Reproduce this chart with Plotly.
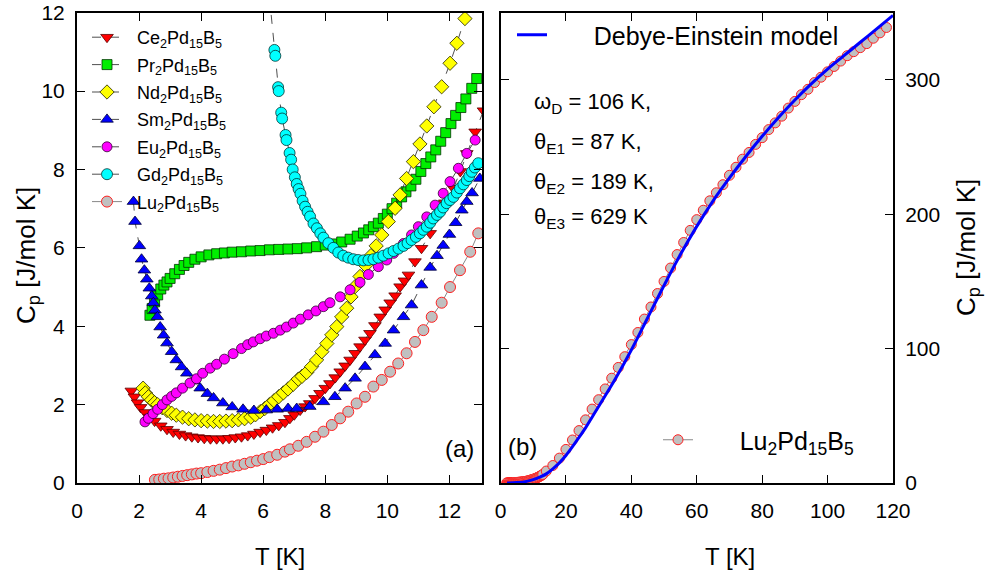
import plotly.graph_objects as go

# ---------------- data: panel (a) ----------------
ce_T = [1.75, 1.85, 1.95, 2.05, 2.2, 2.35, 2.5, 2.7, 2.9, 3.1, 3.3, 3.5, 3.7, 3.9, 4.1, 4.3, 4.5, 4.7, 4.9,
        5.1, 5.3, 5.5, 5.7, 5.9, 6.1, 6.3, 6.5, 6.7, 6.86, 7.0, 7.19, 7.35, 7.5, 7.67, 7.83, 8.0, 8.15, 8.32,
        8.48, 8.64, 8.8, 8.96, 9.12, 9.28, 9.44, 9.6, 9.77, 9.93, 10.09, 10.25, 10.41, 10.55, 10.68, 10.89,
        11.1, 11.38, 11.6, 11.85, 12.13, 12.35, 12.56, 12.83, 13.1]
ce_C = [2.35, 2.2, 2.05, 1.93, 1.8, 1.68, 1.58, 1.46, 1.37, 1.3, 1.25, 1.21, 1.18, 1.16, 1.14, 1.13, 1.13, 1.13,
        1.14, 1.16, 1.18, 1.21, 1.25, 1.3, 1.35, 1.41, 1.47, 1.55, 1.65, 1.74, 1.86, 1.95, 2.03, 2.16, 2.29, 2.42,
        2.54, 2.69, 2.84, 2.99, 3.14, 3.31, 3.48, 3.65, 3.82, 4.02, 4.24, 4.42, 4.6, 4.78, 5.01, 5.16, 5.31, 5.65,
        5.99, 6.37, 6.8, 7.15, 7.52, 7.95, 8.41, 8.96, 9.5]

pr_T = [2.35, 2.42, 2.5, 2.6, 2.7, 2.8, 2.9, 3.0, 3.15, 3.3, 3.45, 3.6, 3.8, 4.0, 4.25, 4.5, 4.75, 5.0, 5.3,
        5.6, 5.9, 6.2, 6.5, 6.8, 7.1, 7.4, 7.72, 8.0, 8.26, 8.53, 8.8, 9.03, 9.23, 9.4, 9.55, 9.71, 9.87, 10.0,
        10.15, 10.3, 10.46, 10.6, 10.76, 10.92, 11.08, 11.24, 11.4, 11.56, 11.72, 11.88, 12.05, 12.2, 12.37,
        12.53, 12.72, 12.88]
pr_C = [4.28, 4.45, 4.62, 4.8, 4.95, 5.05, 5.13, 5.22, 5.34, 5.45, 5.55, 5.63, 5.71, 5.77, 5.82, 5.85, 5.87,
        5.89, 5.9, 5.92, 5.93, 5.95, 5.96, 5.97, 5.98, 6.0, 6.03, 6.07, 6.1, 6.15, 6.22, 6.3, 6.38, 6.46, 6.54,
        6.63, 6.75, 6.86, 7.0, 7.14, 7.3, 7.43, 7.58, 7.75, 7.95, 8.15, 8.32, 8.5, 8.72, 8.94, 9.17, 9.38, 9.58,
        9.8, 10.07, 10.32]

nd_T = [2.13, 2.2, 2.3, 2.4, 2.5, 2.6, 2.75, 2.9, 3.05, 3.2, 3.4, 3.6, 3.8, 4.0, 4.2, 4.4, 4.6, 4.8, 5.0,
        5.2, 5.4, 5.6, 5.75, 5.9, 6.05, 6.2, 6.35, 6.5, 6.65, 6.8, 6.97, 7.13, 7.25, 7.4, 7.56, 7.72, 7.89,
        8.05, 8.21, 8.37, 8.53, 8.69, 8.83, 8.96, 9.12, 9.3, 9.47, 9.64, 9.82, 10.03, 10.25, 10.41, 10.62,
        10.84, 11.05, 11.27, 11.5, 11.75, 12.02, 12.24, 12.5, 12.72]
nd_C = [2.42, 2.3, 2.2, 2.12, 2.05, 2.0, 1.92, 1.85, 1.78, 1.73, 1.68, 1.64, 1.61, 1.59, 1.58, 1.57, 1.57,
        1.58, 1.59, 1.61, 1.64, 1.68, 1.74, 1.82, 1.9, 2.0, 2.1, 2.2, 2.3, 2.4, 2.52, 2.65, 2.72, 2.82, 2.97,
        3.14, 3.35, 3.56, 3.78, 3.99, 4.24, 4.46, 4.75, 5.01, 5.27, 5.55, 5.8, 6.05, 6.33, 6.67, 7.01, 7.35,
        7.77, 8.2, 8.65, 9.11, 9.6, 10.11, 10.71, 11.22, 11.85, 12.4]

sm_T = [1.82, 1.87, 2.01, 2.08, 2.17, 2.25, 2.33, 2.41, 2.46, 2.51, 2.59, 2.68, 2.79, 2.9, 3.05, 3.2, 3.37,
        3.54, 3.75, 3.97, 4.2, 4.4, 4.7, 5.0, 5.35, 5.7, 6.1, 6.45, 6.8, 7.08, 7.5, 7.94, 8.31, 8.64, 8.96,
        9.28, 9.6, 9.93, 10.2, 10.52, 10.78, 11.1, 11.38, 11.6, 11.8, 12.0, 12.2, 12.4, 12.56, 12.73, 12.98]
sm_C = [7.18, 6.67, 6.05, 5.71, 5.43, 5.2, 4.97, 4.77, 4.6, 4.41, 4.24, 3.98, 3.77, 3.57, 3.35, 3.14, 2.96,
        2.8, 2.6, 2.42, 2.28, 2.17, 2.04, 1.94, 1.88, 1.85, 1.86, 1.88, 1.9, 1.9, 1.95, 2.07, 2.2, 2.42, 2.67,
        2.97, 3.27, 3.56, 3.9, 4.24, 4.54, 5.05, 5.5, 5.8, 6.06, 6.34, 6.64, 6.96, 7.18, 7.4, 7.77]

eu_T = [2.19, 2.3, 2.45, 2.6, 2.75, 2.9, 3.05, 3.2, 3.4, 3.64, 3.85, 4.05, 4.29, 4.5, 4.75, 5.03, 5.3, 5.5,
        5.68, 5.9, 6.1, 6.33, 6.55, 6.75, 6.97, 7.2, 7.45, 7.7, 7.94, 8.15, 8.48, 8.8, 9.12, 9.39, 9.71, 9.98,
        10.2, 10.52, 10.78, 11.0, 11.27, 11.54, 11.8, 12.02, 12.29, 12.56, 12.83]
eu_C = [1.56, 1.65, 1.77, 1.88, 2.0, 2.12, 2.21, 2.3, 2.42, 2.55, 2.66, 2.8, 2.93, 3.03, 3.16, 3.3, 3.43,
        3.53, 3.6, 3.68, 3.75, 3.82, 3.9, 3.98, 4.08, 4.18, 4.29, 4.39, 4.5, 4.6, 4.75, 4.93, 5.12, 5.32, 5.52,
        5.69, 5.86, 6.11, 6.33, 6.54, 6.79, 7.09, 7.39, 7.69, 8.03, 8.41, 8.75]

gd_T = [6.2, 6.36, 6.39, 6.48, 6.5, 6.58, 6.61, 6.72, 6.75, 6.85, 6.9, 6.95, 7.02, 7.08, 7.14, 7.2, 7.27,
        7.35, 7.43, 7.51, 7.62, 7.73, 7.84, 7.94, 8.1, 8.26, 8.42, 8.58, 8.74, 8.9, 9.06, 9.23, 9.39, 9.55,
        9.71, 9.87, 10.04, 10.2, 10.36, 10.52, 10.65, 10.78, 10.92, 11.05, 11.16, 11.27, 11.38, 11.48, 11.6,
        11.7, 11.8, 11.91, 12.02, 12.13, 12.24, 12.34, 12.45, 12.56, 12.64, 12.72, 12.82, 12.93]
gd_C = [12.4, 11.05, 10.9, 10.1, 10.0, 9.45, 9.3, 8.88, 8.75, 8.42, 8.25, 8.0, 7.8, 7.63, 7.5, 7.38, 7.2,
        7.05, 6.92, 6.8, 6.62, 6.5, 6.37, 6.26, 6.12, 6.0, 5.88, 5.8, 5.75, 5.71, 5.69, 5.68, 5.69, 5.71, 5.75,
        5.8, 5.86, 5.92, 5.98, 6.05, 6.12, 6.2, 6.28, 6.37, 6.46, 6.54, 6.64, 6.75, 6.84, 6.92, 7.03, 7.14,
        7.22, 7.3, 7.41, 7.52, 7.62, 7.73, 7.83, 7.94, 8.05, 8.16]

lu_T = [2.51, 2.65, 2.8, 2.95, 3.1, 3.25, 3.4, 3.55, 3.7, 3.85, 4.0, 4.2, 4.4, 4.6, 4.8, 5.0, 5.2, 5.4, 5.6,
        5.8, 6.0, 6.2, 6.45, 6.7, 6.86, 7.13, 7.4, 7.67, 7.94, 8.21, 8.48, 8.74, 9.01, 9.28, 9.55, 9.82, 10.09,
        10.35, 10.62, 10.89, 11.16, 11.43, 11.75, 12.02, 12.34, 12.67, 12.93]
lu_C = [0.08, 0.09, 0.11, 0.12, 0.14, 0.16, 0.18, 0.2, 0.22, 0.24, 0.25, 0.28, 0.31, 0.34, 0.38, 0.42, 0.45,
        0.49, 0.53, 0.57, 0.61, 0.66, 0.72, 0.8, 0.86, 0.95, 1.05, 1.18, 1.31, 1.48, 1.65, 1.82, 2.03, 2.2,
        2.46, 2.63, 2.84, 3.05, 3.31, 3.6, 3.9, 4.24, 4.6, 5.0, 5.43, 5.9, 6.37]

# ---------------- data: panel (b) ----------------
lu_hi_T = [14, 16, 18, 20, 22, 24, 26, 28, 30, 32, 34, 36, 38, 40, 42, 44, 46, 48, 50, 52, 54, 56, 58, 60,
           62, 64, 66, 68, 70, 72, 74, 76, 78, 80, 82, 84, 86, 88, 90, 92, 94, 96, 98, 100, 102, 104, 106,
           108, 110, 112, 114, 116, 118]
lu_hi_C = [8.9, 13, 18.5, 25, 32, 39, 47, 55, 62, 70, 78, 86, 94, 103, 112, 122, 131, 141, 150, 160, 170,
           179, 188, 196, 203, 210, 216, 222, 229, 235, 241, 246, 252, 257, 263, 268, 273, 279, 284, 289, 293,
           298, 302, 306, 310, 314, 318, 321, 324, 327, 331, 335, 339]
lu_low_T = [1.9, 2.1, 2.3]
lu_low_C = [0.05, 0.06, 0.07]

model_T = [2, 5, 8, 10, 12, 14, 16, 18, 20, 22, 24, 26, 28, 30, 35, 40, 45, 50, 55, 60, 65, 70, 75, 80, 85,
           90, 95, 100, 105, 110, 115, 120]
model_C = [0.05, 0.3, 1.2, 2.5, 4.3, 6.8, 10.5, 15, 20.5, 27, 34, 41, 49, 57, 77, 99, 123, 147, 170, 191,
           210, 227, 243, 258, 272, 285, 297, 308, 318, 328, 338, 348]

ticks_a = [0, 2, 4, 6, 8, 10, 12]
ticks_b = [0, 20, 40, 60, 80, 100, 120]
yticks_a = [0, 2, 4, 6, 8, 10, 12]
yticks_b = [0, 100, 200, 300]

FONT = "Liberation Sans, Arial, sans-serif"
W, H = 992, 572
NB = "\u00a0"

def px(x):
    return x / W

def py(y):
    return 1 - y / H

fig = go.Figure()

series = [
    ("Ce<sub>2</sub>Pd<sub>15</sub>B<sub>5</sub>", ce_T, ce_C, "triangle-down", "#ff0000", "#5a0000", 11),
    ("Pr<sub>2</sub>Pd<sub>15</sub>B<sub>5</sub>", pr_T, pr_C, "square", "#00ee00", "#003300", 10),
    ("Nd<sub>2</sub>Pd<sub>15</sub>B<sub>5</sub>", nd_T, nd_C, "diamond", "#ffff00", "#222200", 11),
    ("Sm<sub>2</sub>Pd<sub>15</sub>B<sub>5</sub>", sm_T, sm_C, "triangle-up", "#0000ff", "#000033", 11),
    ("Eu<sub>2</sub>Pd<sub>15</sub>B<sub>5</sub>", eu_T, eu_C, "circle", "#ff00ff", "#330033", 10),
    ("Gd<sub>2</sub>Pd<sub>15</sub>B<sub>5</sub>", gd_T, gd_C, "circle", "#00ffff", "#003333", 11),
]
for i, (name, xs, ys, sym, fc, lc, sz) in enumerate(series):
    fig.add_trace(go.Scatter(
        x=xs, y=ys, name=NB * 2 + name, mode="lines+markers", legendgroup=f"g{i}",
        line=dict(color="#222222", width=0.8, dash="dash"),
        marker=dict(symbol=sym, size=sz, color=fc, line=dict(color=lc, width=0.8)),
        xaxis="x", yaxis="y", legend="legend"))

fig.add_trace(go.Scatter(
    x=lu_T, y=lu_C, name=NB * 2 + "Lu<sub>2</sub>Pd<sub>15</sub>B<sub>5</sub>", mode="lines+markers",
    legendgroup="g6", line=dict(color="#888888", width=1),
    marker=dict(symbol="circle", size=11, color="#c0c0c0", line=dict(color="#ff2020", width=1)),
    xaxis="x", yaxis="y", legend="legend"))

# panel (b)
fig.add_trace(go.Scatter(
    x=lu_low_T + lu_T + lu_hi_T, y=lu_low_C + lu_C + lu_hi_C,
    name=NB * 6 + "Lu<sub>2</sub>Pd<sub>15</sub>B<sub>5</sub>", mode="lines+markers",
    line=dict(color="#888888", width=1),
    marker=dict(symbol="circle", size=10, color="#c0c0c0", line=dict(color="#ff2020", width=1)),
    xaxis="x2", yaxis="y2", legend="legend3"))
fig.add_trace(go.Scatter(
    x=model_T, y=model_C, name=NB * 6 + "Debye-Einstein model", mode="lines",
    line=dict(color="#0000ff", width=3, shape="spline"),
    xaxis="x2", yaxis="y2", legend="legend2"))

axis_common = dict(showline=True, linecolor="black", linewidth=2, mirror="ticks", ticks="inside",
                   ticklen=8, tickwidth=1, tickcolor="black", showgrid=False, zeroline=False,
                   tickfont=dict(family=FONT, size=21, color="black"), automargin=False)

fig.update_layout(
    width=W, height=H, margin=dict(l=0, r=0, t=0, b=0),
    paper_bgcolor="white", plot_bgcolor="white",
    font=dict(family=FONT, color="black"),
    xaxis=dict(domain=[px(77), px(482)], range=[0, 13.05], tickvals=ticks_a, anchor="y",
               ticklabelstandoff=8, **axis_common),
    yaxis=dict(domain=[py(483), py(12.7)], range=[0, 12], tickvals=yticks_a, anchor="x",
               ticklabelstandoff=6, **axis_common),
    xaxis2=dict(domain=[px(500.5), px(893)], range=[0, 120], tickvals=ticks_b, anchor="y2",
                ticklabelstandoff=8, **axis_common),
    yaxis2=dict(domain=[py(483), py(12.7)], range=[0, 350], tickvals=yticks_b, anchor="x2", side="right",
                ticklabelstandoff=6, **axis_common),
    legend=dict(x=px(87), y=py(19), xanchor="left", yanchor="top", bgcolor="rgba(0,0,0,0)",
                font=dict(family=FONT, size=18), itemwidth=30, tracegroupgap=1, traceorder="grouped"),
    legend2=dict(x=px(512), y=py(35), xanchor="left", yanchor="middle", bgcolor="rgba(0,0,0,0)",
                 font=dict(family=FONT, size=25), itemwidth=30),
    legend3=dict(x=px(658), y=py(440), xanchor="left", yanchor="middle", bgcolor="rgba(0,0,0,0)",
                 font=dict(family=FONT, size=25), itemwidth=30),
    showlegend=True,
)

ann = [
    dict(text="C<sub>p</sub> [J/mol K]", x=px(28), y=py(256), textangle=-90, font=dict(size=26)),
    dict(text="C<sub>p</sub> [J/mol K]", x=px(968), y=py(248), textangle=-90, font=dict(size=26)),
    dict(text="T [K]", x=px(280), y=py(556), font=dict(size=24)),
    dict(text="T [K]", x=px(730), y=py(556), font=dict(size=24)),
    dict(text="(a)", x=px(459), y=py(448), font=dict(size=24)),
    dict(text="(b)", x=px(522), y=py(446), font=dict(size=24)),
    dict(text="ω<sub>D</sub> = 106 K,", x=px(532), y=py(103), xanchor="left", font=dict(size=22)),
    dict(text="θ<sub>E1</sub> = 87 K,", x=px(532), y=py(143), xanchor="left", font=dict(size=22)),
    dict(text="θ<sub>E2</sub> = 189 K,", x=px(532), y=py(183), xanchor="left", font=dict(size=22)),
    dict(text="θ<sub>E3</sub> = 629 K", x=px(532), y=py(218), xanchor="left", font=dict(size=22)),
]
for a in ann:
    a.setdefault("xanchor", "center")
    a.update(xref="paper", yref="paper", showarrow=False, yanchor="middle")
    a["font"] = dict(family=FONT, color="black", **a["font"])
    fig.add_annotation(**a)

fig.write_html("out.html")
